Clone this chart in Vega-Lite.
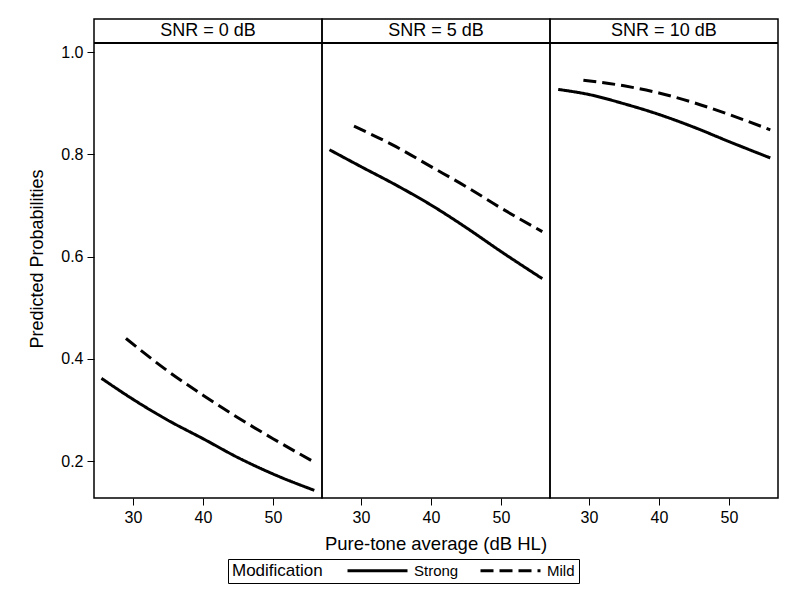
{
  "$schema": "https://vega.github.io/schema/vega-lite/v6.json",
  "padding": {"left": 28, "top": 18, "right": 10, "bottom": 5},
  "background": "white",
  "data": {"values": [
    {"SNR": "SNR = 0 dB", "Modification": "Strong", "PTA": 25.5, "p": 0.362},
    {"SNR": "SNR = 0 dB", "Modification": "Strong", "PTA": 30, "p": 0.321},
    {"SNR": "SNR = 0 dB", "Modification": "Strong", "PTA": 35, "p": 0.280},
    {"SNR": "SNR = 0 dB", "Modification": "Strong", "PTA": 40, "p": 0.244},
    {"SNR": "SNR = 0 dB", "Modification": "Strong", "PTA": 45, "p": 0.207},
    {"SNR": "SNR = 0 dB", "Modification": "Strong", "PTA": 50, "p": 0.175},
    {"SNR": "SNR = 0 dB", "Modification": "Strong", "PTA": 55.9, "p": 0.143},
    {"SNR": "SNR = 0 dB", "Modification": "Mild", "PTA": 29, "p": 0.440},
    {"SNR": "SNR = 0 dB", "Modification": "Mild", "PTA": 35, "p": 0.376},
    {"SNR": "SNR = 0 dB", "Modification": "Mild", "PTA": 40, "p": 0.329},
    {"SNR": "SNR = 0 dB", "Modification": "Mild", "PTA": 45, "p": 0.285},
    {"SNR": "SNR = 0 dB", "Modification": "Mild", "PTA": 50, "p": 0.244},
    {"SNR": "SNR = 0 dB", "Modification": "Mild", "PTA": 55.9, "p": 0.198},
    {"SNR": "SNR = 5 dB", "Modification": "Strong", "PTA": 25.5, "p": 0.809},
    {"SNR": "SNR = 5 dB", "Modification": "Strong", "PTA": 30, "p": 0.776},
    {"SNR": "SNR = 5 dB", "Modification": "Strong", "PTA": 35, "p": 0.740},
    {"SNR": "SNR = 5 dB", "Modification": "Strong", "PTA": 40, "p": 0.701},
    {"SNR": "SNR = 5 dB", "Modification": "Strong", "PTA": 45, "p": 0.657},
    {"SNR": "SNR = 5 dB", "Modification": "Strong", "PTA": 50, "p": 0.610},
    {"SNR": "SNR = 5 dB", "Modification": "Strong", "PTA": 55.9, "p": 0.557},
    {"SNR": "SNR = 5 dB", "Modification": "Mild", "PTA": 29, "p": 0.855},
    {"SNR": "SNR = 5 dB", "Modification": "Mild", "PTA": 35, "p": 0.815},
    {"SNR": "SNR = 5 dB", "Modification": "Mild", "PTA": 40, "p": 0.776},
    {"SNR": "SNR = 5 dB", "Modification": "Mild", "PTA": 45, "p": 0.737},
    {"SNR": "SNR = 5 dB", "Modification": "Mild", "PTA": 50, "p": 0.695},
    {"SNR": "SNR = 5 dB", "Modification": "Mild", "PTA": 55.9, "p": 0.649},
    {"SNR": "SNR = 10 dB", "Modification": "Strong", "PTA": 25.6, "p": 0.927},
    {"SNR": "SNR = 10 dB", "Modification": "Strong", "PTA": 30, "p": 0.917},
    {"SNR": "SNR = 10 dB", "Modification": "Strong", "PTA": 35, "p": 0.899},
    {"SNR": "SNR = 10 dB", "Modification": "Strong", "PTA": 40, "p": 0.878},
    {"SNR": "SNR = 10 dB", "Modification": "Strong", "PTA": 45, "p": 0.853},
    {"SNR": "SNR = 10 dB", "Modification": "Strong", "PTA": 50, "p": 0.825},
    {"SNR": "SNR = 10 dB", "Modification": "Strong", "PTA": 55.9, "p": 0.793},
    {"SNR": "SNR = 10 dB", "Modification": "Mild", "PTA": 29.2, "p": 0.945},
    {"SNR": "SNR = 10 dB", "Modification": "Mild", "PTA": 35, "p": 0.934},
    {"SNR": "SNR = 10 dB", "Modification": "Mild", "PTA": 40, "p": 0.920},
    {"SNR": "SNR = 10 dB", "Modification": "Mild", "PTA": 45, "p": 0.901},
    {"SNR": "SNR = 10 dB", "Modification": "Mild", "PTA": 50, "p": 0.878},
    {"SNR": "SNR = 10 dB", "Modification": "Mild", "PTA": 55.9, "p": 0.848}
  ]},
  "facet": {
    "column": {
      "field": "SNR",
      "type": "nominal",
      "sort": ["SNR = 0 dB", "SNR = 5 dB", "SNR = 10 dB"],
      "title": "Pure-tone average (dB HL)",
      "header": {"labels": false, "titleOrient": "bottom", "titleFontSize": 18.5, "titleFontWeight": "normal", "titleFont": "Liberation Sans", "titleColor": "black", "titlePadding": 0}
    }
  },
  "spacing": 0,
  "bounds": "flush",
  "spec": {
    "width": 228,
    "height": 479,
    "layer": [
      {
        "mark": {"type": "line", "strokeWidth": 3, "color": "black", "interpolate": "monotone"},
        "encoding": {
          "x": {"field": "PTA", "type": "quantitative", "scale": {"domain": [24.43, 57.0], "nice": false, "zero": false},
                "axis": {"values": [30, 40, 50], "title": null}},
          "y": {"field": "p", "type": "quantitative", "scale": {"domain": [0.128, 1.0647], "nice": false, "zero": false},
                "axis": {"values": [0.2, 0.4, 0.6, 0.8, 1.0], "format": ".1f", "title": "Predicted Probabilities"}},
          "strokeDash": {"field": "Modification", "type": "nominal", "title": "Modification",
                         "scale": {"domain": ["Strong", "Mild"], "range": [[1, 0], [13, 6]]},
                         "legend": {"orient": "none", "legendX": 134, "legendY": 540}},
          "order": {"field": "PTA", "type": "quantitative"}
        }
      },
      {
        "mark": {"type": "rule", "color": "black", "strokeWidth": 2},
        "encoding": {"y": {"datum": 1.0176}}
      },
      {
        "transform": [{"aggregate": [{"op": "count", "as": "n"}], "groupby": ["SNR"]}],
        "mark": {"type": "text", "font": "Liberation Sans", "fontSize": 18, "color": "black", "baseline": "middle"},
        "encoding": {
          "text": {"field": "SNR", "type": "nominal"},
          "x": {"datum": 40.7},
          "y": {"datum": 1.0415}
        }
      }
    ]
  },
  "config": {
    "font": "Liberation Sans",
    "view": {"stroke": "black", "strokeWidth": 1.5},
    "axis": {"grid": false, "domain": false, "tickColor": "black", "tickSize": 7, "labelColor": "black",
             "labelFontSize": 16, "labelFont": "Liberation Sans", "labelPadding": 4,
             "titleFontSize": 18, "titleFontWeight": "normal", "titleColor": "black", "titleFont": "Liberation Sans", "titlePadding": 14},
    "legend": {"direction": "horizontal", "titleOrient": "left", "strokeColor": "black",
               "padding": 4, "symbolType": "M-1,0H9", "symbolSize": 144, "symbolStrokeWidth": 3, "symbolStrokeColor": "black",
               "labelFontSize": 15, "labelColor": "black", "titleFontSize": 17, "titleFontWeight": "normal", "titleColor": "black",
               "labelOffset": 53, "columnPadding": 15, "titlePadding": 23}
  }
}
